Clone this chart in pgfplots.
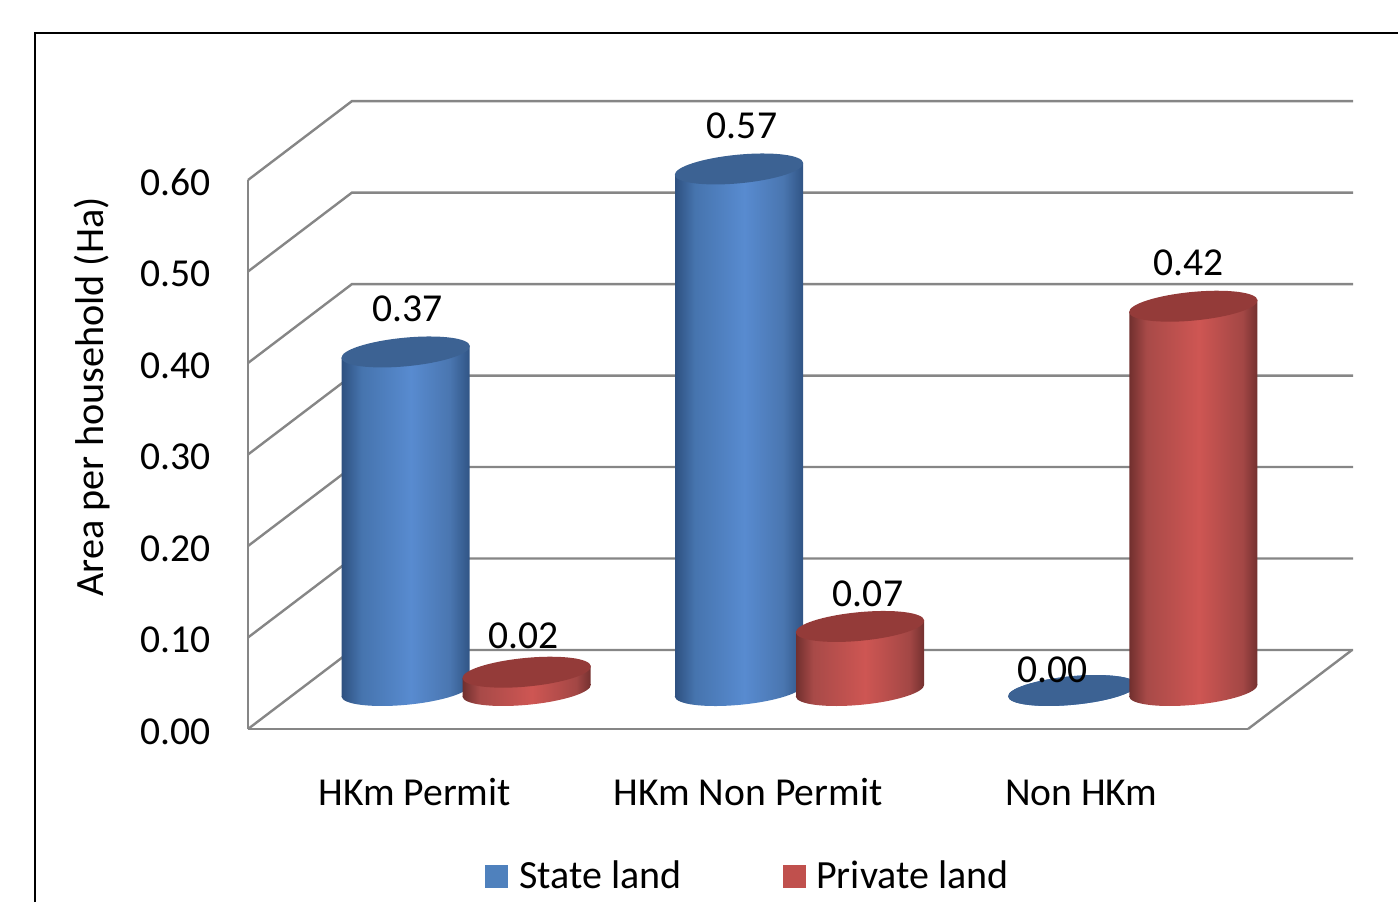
\documentclass[border=0pt]{standalone}
\usepackage{fontspec}
\setmainfont{Carlito}
\usepackage{pgfplots}
\pgfplotsset{compat=1.18}

\newcommand\chartfont{\fontsize{19.8}{24}\selectfont}
\newcommand\legendfont{\fontsize{20}{24}\selectfont}
\newcommand\labelfont{\fontsize{20.1}{24}\selectfont}

\definecolor{wallgray}{HTML}{868686}
\definecolor{stateland}{HTML}{4F81BD}
\definecolor{privateland}{HTML}{C0504D}
\definecolor{statetop}{HTML}{3C6293}
\definecolor{privatetop}{HTML}{943B39}
\definecolor{bA}{HTML}{2D4F7E}
\definecolor{bB}{HTML}{4674AE}
\definecolor{bC}{HTML}{588BD0}
\definecolor{bD}{HTML}{4A76B0}
\definecolor{bE}{HTML}{2F5383}
\definecolor{rA}{HTML}{6E2E2D}
\definecolor{rB}{HTML}{A84A48}
\definecolor{rC}{HTML}{CE5653}
\definecolor{rD}{HTML}{A34745}
\definecolor{rE}{HTML}{712F2E}

% Side shading of the cylinders; the bar itself spans 25bp to 75bp.
\pgfdeclarehorizontalshading{statecyl}{100bp}{color(0bp)=(bA); color(25bp)=(bA); color(33bp)=(bB); color(52bp)=(bC); color(67bp)=(bD); color(75bp)=(bE); color(100bp)=(bE)}
\pgfdeclarehorizontalshading{privatecyl}{100bp}{color(0bp)=(rA); color(25bp)=(rA); color(32bp)=(rB); color(52bp)=(rC); color(69bp)=(rD); color(75bp)=(rE); color(100bp)=(rE)}

\pgfdeclareplotmark{cylblank}{}

% #1 side shading, #2 cap colour, #3 horizontal offset of the bar from its category.
% One unit is half a point; the data point sits 38.5 units below the cap centre.
\newcommand\cylinder[3]{%
  \pgfmathsetmacro\cylh{\val*915}%
  \pgfmathsetmacro\capy{38.5}%
  \pgfmathsetmacro\basey{\capy-\cylh}%
  \pgfmathsetmacro\xl{(#3)-64}%
  \pgfmathsetmacro\xr{(#3)+64}%
  \pgfmathsetmacro\tl{\capy-5.8}%
  \pgfmathsetmacro\tr{\capy+5.8}%
  \pgfmathsetmacro\bl{\basey-5.8}%
  \pgfmathsetmacro\br{\basey+5.8}%
  \begin{pgfscope}
    \pgfsetxvec{\pgfpoint{0.5pt}{0pt}}%
    \pgfsetyvec{\pgfpoint{0pt}{0.5pt}}%
    \pgfpathmoveto{\pgfpointxy{\xl}{\tl}}%
    \pgfpathlineto{\pgfpointxy{\xl}{\bl}}%
    \pgfpathlineto{\pgfpointxy{\xr}{\br}}%
    \pgfpathlineto{\pgfpointxy{\xr}{\tr}}%
    \pgfpathclose
    \pgfpathellipse{\pgfpointxy{#3}{\basey}}{\pgfpointxy{64.2}{6.07}}{\pgfpointxy{-1.35}{14.24}}%
    \pgfshadepath{#1}{0}%
    \pgfusepath{discard}%
    \pgfpathellipse{\pgfpointxy{#3}{\capy}}{\pgfpointxy{64.2}{6.07}}{\pgfpointxy{-1.35}{14.24}}%
    \pgfsetfillcolor{#2}%
    \pgfusepath{fill}%
  \end{pgfscope}%
}

\pgfplotsset{
  value labels/.style={
    only marks,forget plot,mark=cylblank,point meta=y,
    nodes near coords={\pgfmathprintnumber[fixed,fixed zerofill,precision=2]{\pgfplotspointmeta}},
    every node near coord/.append style={anchor=center,text=black,xshift={0.5pt*\dx},yshift={0.5pt*\dy}},
    visualization depends on={value \thisrow{dx}\as\dx},
    visualization depends on={value \thisrow{dy}\as\dy},
  },
  cylinders/.style n args={3}{
    only marks,forget plot,scatter,mark=cylblank,point meta=y,
    visualization depends on={value \thisrow{v}\as\val},
    scatter/@pre marker code/.code={\cylinder{#1}{#2}{#3}},
    scatter/@post marker code/.code={},
  },
}

\begin{document}
\begin{tikzpicture}[font=\chartfont]
  \useasboundingbox (0,0) rectangle (699pt,451pt);
  \draw[black,line width=1pt] (17.5pt,0pt) -- (17.5pt,434.5pt) -- (699pt,434.5pt);
  \begin{axis}[
    at={(124pt,86.5pt)}, anchor=south west,
    scale only axis, width=500pt, height=274.5pt,
    clip=false,
    xmin=-0.5, xmax=2.5, ymin=0, ymax=0.6,
    axis x line*=bottom, axis y line*=left,
    axis line style={draw=wallgray,line width=1.2pt,-},
    major tick length=0pt,
    xtick={0,1,2},
    xticklabels={HKm Permit,HKm Non Permit,Non HKm},
    ytick={0,0.1,0.2,0.3,0.4,0.5,0.6},
    /pgf/number format/.cd, fixed, fixed zerofill, precision=2, assume math mode=true,
    /pgfplots/.cd,
    yticklabel style={xshift=-15pt,yshift=-1.2pt},
    xticklabel style={text height=13pt,text depth=0pt,yshift=-21.5pt},
    ylabel={Area per household (Ha)},
    every axis y label/.style={at={(axis description cs:-0.156,0.605)},rotate=90,anchor=center,font=\labelfont},
    legend style={at={(axis description cs:0.501,-0.268)},anchor=center,draw=none,fill=none,
      legend columns=2,font=\legendfont,
      /tikz/every odd column/.append style={column sep=3.5pt},
      /tikz/every even column/.append style={column sep=48.5pt}},
    legend cell align=left,
  ]
    % Back wall and side wall lines, then the right edge of the floor.
    \addplot[wallgray,line width=1.2pt,forget plot] coordinates {(-0.5,0.0) (-0.188,0.0863) (2.815,0.0863)};
    \addplot[wallgray,line width=1.2pt,forget plot] coordinates {(-0.5,0.1) (-0.188,0.1863) (2.815,0.1863)};
    \addplot[wallgray,line width=1.2pt,forget plot] coordinates {(-0.5,0.2) (-0.188,0.2863) (2.815,0.2863)};
    \addplot[wallgray,line width=1.2pt,forget plot] coordinates {(-0.5,0.3) (-0.188,0.3863) (2.815,0.3863)};
    \addplot[wallgray,line width=1.2pt,forget plot] coordinates {(-0.5,0.4) (-0.188,0.4863) (2.815,0.4863)};
    \addplot[wallgray,line width=1.2pt,forget plot] coordinates {(-0.5,0.5) (-0.188,0.5863) (2.815,0.5863)};
    \addplot[wallgray,line width=1.2pt,forget plot] coordinates {(-0.5,0.6) (-0.188,0.6863) (2.815,0.6863)};
    \addplot[wallgray,line width=1.2pt,forget plot] coordinates {(2.5,0.0) (2.812,0.0863)};

    \addlegendimage{legend image code/.code={\fill[stateland] (0pt,-5.5pt) rectangle (11pt,5.5pt);}}
    \addlegendentry{State land}
    \addlegendimage{legend image code/.code={\fill[privateland] (0pt,-5.5pt) rectangle (11pt,5.5pt);}}
    \addlegendentry{Private land}

    % Land area per household, drawn as cylinders.
    \addplot[cylinders={statecyl}{statetop}{-9}] table[x=x,y=v] {
x v
0 0.37
1 0.57
2 0.00
};
    \addplot[cylinders={privatecyl}{privatetop}{112}] table[x=x,y=v] {
x v
0 0.02
1 0.07
2 0.42
};

    % The value labels: value, then the label's offset from its data point.
    \addplot[value labels] table[x=x,y=v] {
x v    dx   dy
0 0.37 -7   81.45
1 0.57 -6   81.45
2 0.00 -29  59
};
    \addplot[value labels] table[x=x,y=v] {
x v    dx   dy
0 0.02 109  74.7
1 0.07 120  71
2 0.42 107  81.7
};
  \end{axis}
\end{tikzpicture}
\end{document}
